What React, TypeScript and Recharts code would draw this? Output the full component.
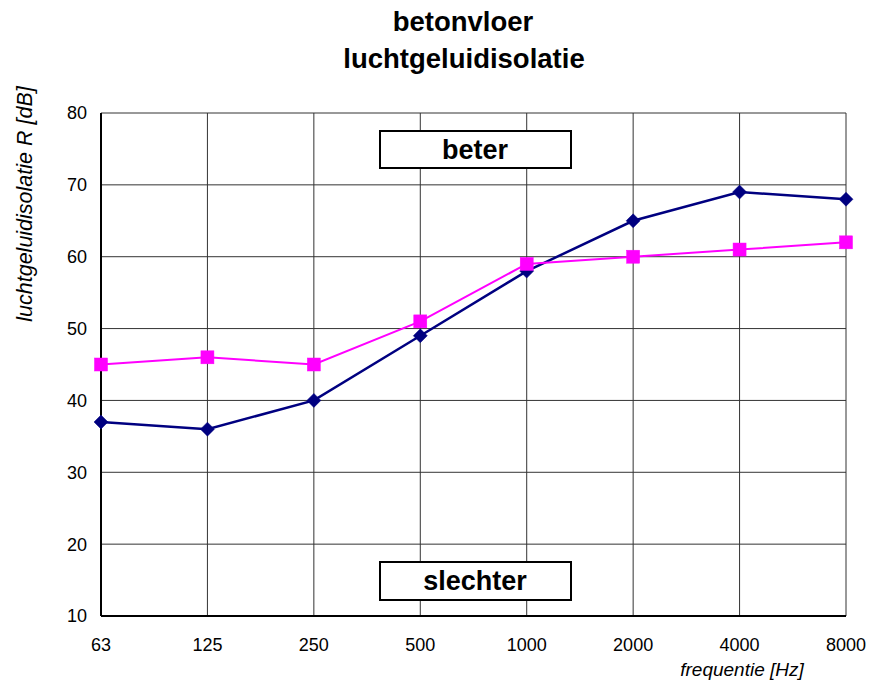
import React from 'react';
import { LineChart, Line, XAxis, YAxis, CartesianGrid, Customized } from 'recharts';

const categories = ['63', '125', '250', '500', '1000', '2000', '4000', '8000'];
const navyValues = [37, 36, 40, 49, 58, 65, 69, 68];
const magentaValues = [45, 46, 45, 51, 59, 60, 61, 62];
const yTicks = [10, 20, 30, 40, 50, 60, 70, 80];

const data = categories.map((c, i) => ({ f: c, a: navyValues[i], b: magentaValues[i] }));

const FONT = '"Liberation Sans", Arial, Helvetica, sans-serif';

const Diamond = (props: any) => {
  const { cx, cy, index } = props;
  if (cx == null || cy == null) return null;
  const s = 7;
  return <polygon key={`d${index}`} points={`${cx},${cy - s} ${cx + s},${cy} ${cx},${cy + s} ${cx - s},${cy}`} fill="#000080" stroke="#000080" strokeWidth={0.5} />;
};

const Square = (props: any) => {
  const { cx, cy, index } = props;
  if (cx == null || cy == null) return null;
  const s = 6.5;
  return <rect key={`s${index}`} x={cx - s} y={cy - s} width={2 * s} height={2 * s} fill="#FF00FF" stroke="#FF00FF" strokeWidth={0.5} />;
};

const Annotations = () => (
  <g fontFamily={FONT}>
    <text x={463} y={31} textAnchor="middle" fontSize={27.5} fontWeight="bold" fill="#000">betonvloer</text>
    <text x={464} y={68} textAnchor="middle" fontSize={27.5} fontWeight="bold" fill="#000">luchtgeluidisolatie</text>
    <rect x={380} y={131} width={191} height={37} fill="#fff" stroke="#000" strokeWidth={2} />
    <text x={475} y={159} textAnchor="middle" fontSize={27} fontWeight="bold" fill="#000">beter</text>
    <rect x={380} y={562} width={191} height={38} fill="#fff" stroke="#000" strokeWidth={2} />
    <text x={475} y={590} textAnchor="middle" fontSize={27} fontWeight="bold" fill="#000">slechter</text>
    <text x={742} y={676} textAnchor="middle" fontSize={19} fontStyle="italic" fill="#000">frequentie [Hz]</text>
    <text x={32} y={204} textAnchor="middle" fontSize={21.5} fontStyle="italic" fill="#000" transform="rotate(-90 32 204)">luchtgeluidisolatie R [dB]</text>
  </g>
);

export default function App() {
  return (
    <div style={{ position: 'absolute', left: 0, top: 0, width: 870, height: 685, background: '#fff' }}>
      <LineChart width={870} height={685} data={data} margin={{ top: 113, right: 24, left: 41, bottom: 0 }}>
        <CartesianGrid stroke="#333" strokeWidth={1} />
        <XAxis
          dataKey="f"
          height={69}
          tickSize={0}
          tickMargin={22}
          axisLine={{ stroke: '#000', strokeWidth: 2 }}
          tick={{ fill: '#000', fontSize: 18, fontFamily: FONT }}
          interval={0}
        />
        <YAxis
          width={60}
          domain={[10, 80]}
          ticks={yTicks}
          type="number"
          tickSize={0}
          tickMargin={14}
          axisLine={{ stroke: '#000', strokeWidth: 2 }}
          tick={{ fill: '#000', fontSize: 18, fontFamily: FONT }}
          interval={0}
        />
        <Customized component={Annotations} />
        <Line dataKey="a" stroke="#000080" strokeWidth={2.5} dot={Diamond} isAnimationActive={false} />
        <Line dataKey="b" stroke="#FF00FF" strokeWidth={2} dot={Square} isAnimationActive={false} />
      </LineChart>
    </div>
  );
}
